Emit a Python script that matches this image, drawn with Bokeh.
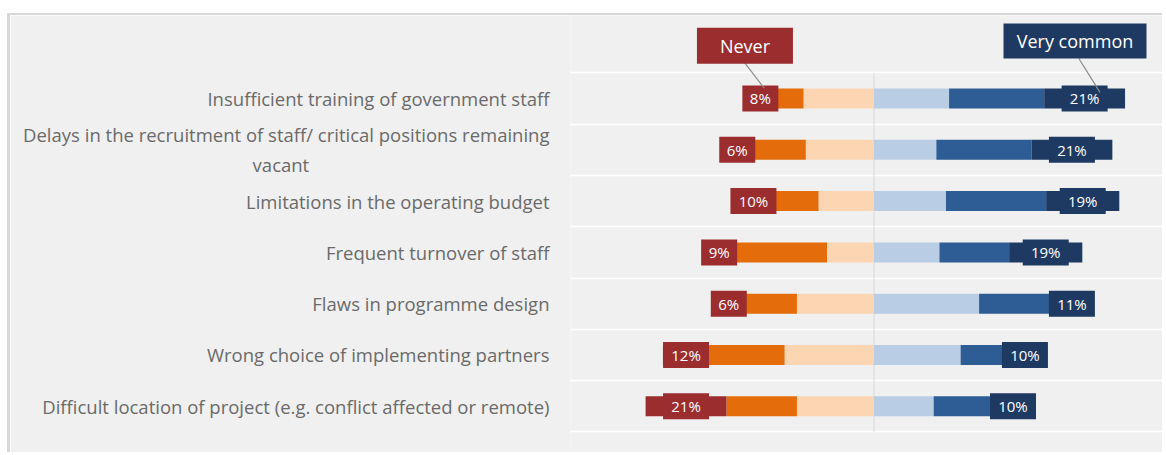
import numpy as np
from bokeh.plotting import figure
from bokeh.models import Range1d, FixedTicker, ColumnDataSource
from bokeh.core.properties import value
from bokeh.embed import file_html
from bokeh.resources import INLINE

# ---------------- data ----------------
categories = [
    "Insufficient training of government staff",
    "Delays in the recruitment of staff/ critical positions remaining\nvacant",
    "Limitations in the operating budget",
    "Frequent turnover of staff",
    "Flaws in programme design",
    "Wrong choice of implementing partners",
    "Difficult location of project (e.g. conflict affected or remote)",
]
never = [8, 6, 10, 9, 6, 12, 21]
rarely = [7.2, 14.8, 11.9, 23.5, 14.7, 19.6, 18.3]
not_common = [18.3, 17.7, 14.4, 12.2, 20.0, 23.2, 20.0]
somewhat_common = [19.5, 16.2, 18.7, 17.0, 27.3, 22.5, 15.5]
common = [24.7, 24.7, 26.0, 18.1, 18.6, 11.7, 15.6]
very_common = [21, 21, 19, 19, 11, 10, 10]
callout_names = ["Never", "Very common"]

# ---------------- styles ----------------
C_NEVER = "#9c2d2f"
C_RARE = "#e46c0a"
C_NOTC = "#fcd5b3"
C_SOME = "#b9cde4"
C_COMM = "#2e5d95"
C_VERY = "#1f3a62"
BG = "#f0f0f0"
FONT = value("Open Sans")

n = len(categories)
ys = np.arange(n)
nv = np.array(never, float)
ra = np.array(rarely, float)
nc = np.array(not_common, float)
sc = np.array(somewhat_common, float)
cm = np.array(common, float)
vc = np.array(very_common, float)


def axis_label(c):
    # centre the second line of a wrapped label under the first one
    if "\n" in c:
        first, second = c.split("\n")
        return first + "\n" + second + "\u00a0" * 50
    return c


p = figure(width=1155, height=439,
           x_range=Range1d(-78.8, 75.7), y_range=Range1d(6.94, -1.618),
           output_backend="svg", toolbar_location=None,
           x_axis_location=None,
           min_border_left=560, min_border_right=0,
           min_border_top=0, min_border_bottom=0)
p.margin = (13, 0, 0, 7)
p.styles = {"border-top": "2px solid #d8d8d8", "border-left": "3px solid #d8d8d8"}
p.background_fill_color = BG
p.border_fill_color = BG
p.outline_line_color = None
p.xgrid.visible = False
p.ygrid[0].ticker = FixedTicker(ticks=[i - 0.5 for i in range(n + 1)])
p.ygrid.grid_line_color = "#ffffff"
p.ygrid.grid_line_width = 1.5

ax = p.yaxis[0]
ax.ticker = FixedTicker(ticks=list(range(n)))
ax.major_label_overrides = {i: axis_label(c) for i, c in enumerate(categories)}
ax.axis_line_color = None
ax.major_tick_line_color = None
ax.minor_tick_line_color = None
ax.major_tick_out = 0
ax.major_tick_in = 0
ax.major_label_standoff = 21
ax.major_label_text_font = "Open Sans"
ax.major_label_text_font_size = "18.5px"
ax.major_label_text_color = "#6a6a6a"

# centre line
p.segment(x0=[0], y0=[-0.5], x1=[0], y1=[n - 0.5], line_color="#d9d9d9", line_width=1)

BAR_H = 0.39
# left side
p.hbar(y=ys, left=-nc, right=0, height=BAR_H, color=C_NOTC, line_color=None)
p.hbar(y=ys, left=-(nc + ra), right=-nc, height=BAR_H, color=C_RARE, line_color=None)
p.hbar(y=ys, left=-(nc + ra + nv), right=-(nc + ra), height=BAR_H, color=C_NEVER, line_color=None)
# right side
p.hbar(y=ys, left=0, right=sc, height=BAR_H, color=C_SOME, line_color=None)
p.hbar(y=ys, left=sc, right=sc + cm, height=BAR_H, color=C_COMM, line_color=None)
p.hbar(y=ys, left=sc + cm, right=sc + cm + vc, height=BAR_H, color=C_VERY, line_color=None)

# value labels with boxes
never_c = -(nc + ra + nv / 2)
very_c = sc + cm + vc / 2
never_lab = [f"{int(v)}%" for v in never]
very_lab = [f"{int(v)}%" for v in very_common]

src_n = ColumnDataSource(dict(x=never_c, y=ys, t=never_lab, w=[10 * len(s) + 16 for s in never_lab]))
src_v = ColumnDataSource(dict(x=very_c, y=ys, t=very_lab, w=[10 * len(s) + 16 for s in very_lab]))
for src, col in ((src_n, C_NEVER), (src_v, C_VERY)):
    p.rect(x="x", y="y", width="w", height=26, width_units="screen", height_units="screen",
           source=src, fill_color=col, line_color=None)
    p.text(x="x", y="y", text="t", source=src, text_align="center", text_baseline="middle",
           text_color="white", text_font=FONT, text_font_size="15px")

# callouts
cx = [never_c[0] - 4, very_c[0] - 2.5]
cy = [-1.03, -1.12]
cw = [96, 143]
ch = [36, 35]
ccol = [C_NEVER, C_VERY]
p.segment(x0=[cx[0], cx[1] + 1], y0=[cy[0] + 0.34, cy[1] + 0.34],
          x1=[never_c[0] + 1, very_c[0] + 4], y1=[-0.2, -0.12],
          line_color="#8a8a8a", line_width=1.2)
p.rect(x=cx, y=cy, width=cw, height=ch, width_units="screen", height_units="screen",
       fill_color=ccol, line_color=None)
p.text(x=cx, y=cy, text=callout_names, text_align="center", text_baseline="middle",
       text_color="white", text_font=FONT, text_font_size="18px")

open("out.html", "w").write(file_html(p, INLINE))
